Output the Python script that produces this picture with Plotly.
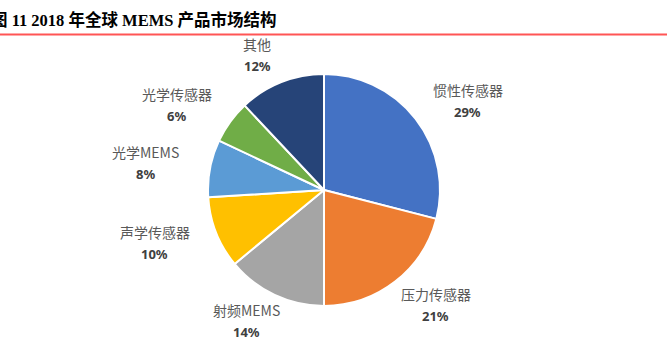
import math
import plotly.graph_objects as go

categories = ["惯性传感器", "压力传感器", "射频MEMS", "声学传感器", "光学MEMS", "光学传感器", "其他"]
values = [29, 21, 14, 10, 8, 6, 12]
colors = ["#4472C4", "#ED7D31", "#A5A5A5", "#FFC000", "#5B9BD5", "#70AD47", "#264478"]
title_text = "图 11 2018 年全球 MEMS 产品市场结构"

W, H = 667, 339
cx, cy, r = 324, 190, 116  # pixel centre (from top) and radius

fig = go.Figure()
fig.add_trace(go.Pie(
    labels=categories, values=values, sort=False, direction="clockwise", rotation=0,
    marker=dict(colors=colors, line=dict(color="white", width=2)),
    textinfo="none", hoverinfo="label+percent", showlegend=False,
    domain=dict(x=[(cx - r) / W, (cx + r) / W], y=[(H - cy - r) / H, (H - cy + r) / H]),
))

ann = []
total = sum(values)
cum = 0
for name, v in zip(categories, values):
    mid = (cum + v / 2) / total * 2 * math.pi
    cum += v
    px = cx + 182 * math.sin(mid)
    py = cy - 145 * math.cos(mid)
    ann.append(dict(x=px / W, y=(H - (py - 11)) / H, xref="paper", yref="paper",
                    text=name, showarrow=False, xanchor="center", yanchor="middle",
                    font=dict(family="Noto Sans CJK SC, sans-serif", size=14, color="#595959")))
    ann.append(dict(x=px / W, y=(H - (py + 11)) / H, xref="paper", yref="paper",
                    text="<b>%d%%</b>" % round(v / total * 100), showarrow=False,
                    xanchor="center", yanchor="middle",
                    font=dict(family="Noto Sans, sans-serif", size=13, color="#404040")))

ann.append(dict(x=-11 / W, y=(H - 20) / H, xref="paper", yref="paper", text="<b>" + title_text + "</b>",
                showarrow=False, xanchor="left", yanchor="middle",
                font=dict(family="Liberation Serif, Noto Sans CJK SC, serif", size=16.5, color="#000000")))

fig.update_layout(
    width=W, height=H, margin=dict(l=0, r=0, t=0, b=0),
    paper_bgcolor="white", plot_bgcolor="white",
    annotations=ann,
    shapes=[dict(type="line", xref="paper", yref="paper", x0=0, x1=1,
                 y0=(H - 34.5) / H, y1=(H - 34.5) / H, line=dict(color="#FF5555", width=2))],
)
fig.write_html("out.html")
